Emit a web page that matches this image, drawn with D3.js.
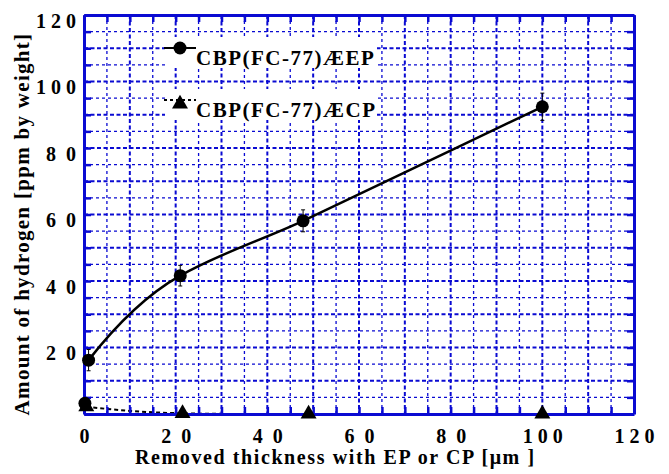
<!DOCTYPE html>
<html lang="en">
<head>
<meta charset="utf-8">
<title>Hydrogen vs removed thickness</title>
<script src="https://cdn.jsdelivr.net/npm/d3@7"></script>
<style>
  body { margin: 0; background: #fff; }
  svg text { font-family: "Liberation Serif", "Times New Roman", serif; font-weight: bold; fill: #000; }
</style>
</head>
<body>
<div id="chart"></div>
<script>

// EP series: removed thickness [um], hydrogen [ppm by weight], error
var epThickness = [1, 21, 47.8, 100];
var epHydrogen  = [16.2, 41.6, 58.1, 92.4];
var epError     = [3.2, 3.1, 3.3, 4.1];

// CP series
var cpThickness = [0.5, 21.5, 49, 100];
var cpHydrogen  = [2.2, 0.2, 0, 0];

// as-received sample
var refThickness = [0.2];
var refHydrogen  = [3.2];

var xTicks = [0, 20, 40, 60, 80, 100, 120];
var yTicks = [20, 40, 60, 80, 100, 120];
var legendLabels = ["CBP(FC-77)\u00c6EP", "CBP(FC-77)\u00c6CP"];
var xTitle = "Removed thickness with EP or CP [\u03bcm ]";
var yTitle = "Amount of hydrogen [ppm by weight]";

var margin = {top: 15, right: 35, bottom: 60, left: 84},
    width = 669 - margin.left - margin.right,
    height = 474 - margin.top - margin.bottom,
    blue = "#0a0ad2";

var svg = d3.select("#chart").append("svg")
    .attr("width", 669)
    .attr("height", 474);

var g = svg.append("g")
    .attr("transform", "translate(" + margin.left + "," + margin.top + ")");

var x = d3.scaleLinear().domain([0, 120]).range([0, width]);
var y = d3.scaleLinear().domain([0, 120]).range([height, 0]);

var minor = d3.range(5, 120, 5);

function spaced(d) {
  var s = String(d).split("");
  return s.join(s.length < 3 ? "\u00a0\u00a0" : "\u00a0");
}

// smooth line through the points: slopes lean on the segment that
// leaves each point, the first one is bent to match
function smoothPath(data) {
  var pts = data.map(function(d) { return [x(d[0]), y(d[1])]; }),
      n = pts.length, s = [], m = [], p = d3.path(), i;
  for (i = 0; i < n - 1; i++) {
    s[i] = (pts[i + 1][1] - pts[i][1]) / (pts[i + 1][0] - pts[i][0]);
  }
  for (i = 1; i < n - 1; i++) m[i] = (s[i - 1] + 3 * s[i]) / 4;
  m[n - 1] = s[n - 2];
  m[0] = 2 * s[0] - m[1];
  p.moveTo(pts[0][0], pts[0][1]);
  for (i = 0; i < n - 1; i++) {
    var h = (pts[i + 1][0] - pts[i][0]) / 3;
    p.bezierCurveTo(pts[i][0] + h, pts[i][1] + m[i] * h,
                    pts[i + 1][0] - h, pts[i + 1][1] - m[i + 1] * h,
                    pts[i + 1][0], pts[i + 1][1]);
  }
  return p.toString();
}

// grid
g.selectAll(".hgrid").data(minor).enter().append("line")
    .attr("x1", 0).attr("x2", width)
    .attr("y1", function(d) { return y(d); })
    .attr("y2", function(d) { return y(d); })
    .style("stroke", blue)
    .style("stroke-width", function(d) { return d % 10 ? 1.3 : 2; })
    .style("stroke-dasharray", function(d) { return d % 10 ? "3,3" : "4,2.5"; });

g.selectAll(".vgrid").data(minor).enter().append("line")
    .attr("y1", 0).attr("y2", height)
    .attr("x1", function(d) { return x(d); })
    .attr("x2", function(d) { return x(d); })
    .style("stroke", blue)
    .style("stroke-width", function(d) { return d % 10 ? 1.3 : 2; })
    .style("stroke-dasharray", function(d) { return d % 10 ? "3,3" : "4,2.5"; });

// legend boxes hide the grid behind them
g.selectAll(".lbox").data(legendLabels).enter().append("rect")
    .attr("x", 81)
    .attr("y", function(d, i) { return 22 + i * 52; })
    .attr("width", 212)
    .attr("height", 31)
    .style("fill", "#fff");

// curves
var epData = d3.zip(epThickness, epHydrogen, epError);
var cpData = d3.zip(cpThickness, cpHydrogen);

g.append("path")
    .attr("d", smoothPath(epData))
    .style("fill", "none")
    .style("stroke", "#000")
    .style("stroke-width", 2.5);

g.append("path")
    .attr("d", smoothPath(cpData))
    .style("fill", "none")
    .style("stroke", "#000")
    .style("stroke-width", 2)
    .style("stroke-dasharray", "4,3");

// axes on all four sides, ticks inward
function styleAxis(sel) {
  sel.select(".domain").style("stroke", blue).style("stroke-width", 3);
  sel.selectAll(".tick line").style("stroke", blue).style("stroke-width", 2.5);
  sel.selectAll(".tick text").style("font-size", "20px")
      .style("font-family", "'Liberation Serif', 'Times New Roman', serif")
      .style("font-weight", "bold").style("fill", "#000");
}

var xAxis = g.append("g")
    .attr("transform", "translate(0," + height + ")")
    .call(d3.axisBottom(x).tickValues(d3.range(0, 121, 5)).tickSize(-7).tickSizeOuter(0)
      .tickFormat(function(d) { return xTicks.indexOf(d) >= 0 ? spaced(d) : ""; }))
    .call(styleAxis);
xAxis.selectAll(".tick text").attr("y", 29).attr("dy", 0);

var yAxis = g.append("g")
    .call(d3.axisLeft(y).tickValues(d3.range(0, 121, 5)).tickSize(-7).tickSizeOuter(0).tickPadding(8)
      .tickFormat(function(d) { return yTicks.indexOf(d) >= 0 ? spaced(d) : ""; }))
    .call(styleAxis);
yAxis.selectAll(".tick text").attr("dy", "12px");

g.append("g")
    .attr("transform", "translate(" + width + ",0)")
    .call(d3.axisRight(y).tickValues(d3.range(0, 121, 5)).tickSize(-7).tickSizeOuter(0).tickFormat(""))
    .call(styleAxis);

g.append("g")
    .call(d3.axisTop(x).tickValues(d3.range(0, 121, 5)).tickSize(-7).tickSizeOuter(0).tickFormat(""))
    .call(styleAxis);

// error bars
var bars = g.selectAll(".err").data(epData).enter().append("g")
    .style("stroke", "#000")
    .style("stroke-width", 1);
bars.append("line")
    .attr("x1", function(d) { return x(d[0]); })
    .attr("x2", function(d) { return x(d[0]); })
    .attr("y1", function(d) { return y(d[1] + d[2]); })
    .attr("y2", function(d) { return y(d[1] - d[2]); });
bars.selectAll(".cap").data(function(d) { return [[d[0], d[1] + d[2]], [d[0], d[1] - d[2]]]; })
  .enter().append("line")
    .attr("x1", function(d) { return x(d[0]) - 2; })
    .attr("x2", function(d) { return x(d[0]) + 2; })
    .attr("y1", function(d) { return y(d[1]); })
    .attr("y2", function(d) { return y(d[1]); });

// markers
var triangle = d3.symbol().type(d3.symbolTriangle).size(110);

g.selectAll(".ref").data(d3.zip(refThickness, refHydrogen)).enter().append("circle")
    .attr("cx", function(d) { return x(d[0]); })
    .attr("cy", function(d) { return y(d[1]); })
    .attr("r", 6.5)
    .style("fill", "#000");

g.selectAll(".cp").data(cpData).enter().append("path")
    .attr("d", triangle)
    .attr("transform", function(d) { return "translate(" + x(d[0]) + "," + y(d[1]) + ")"; })
    .style("fill", "#000");

g.selectAll(".ep").data(epData).enter().append("circle")
    .attr("cx", function(d) { return x(d[0]); })
    .attr("cy", function(d) { return y(d[1]); })
    .attr("r", 6.5)
    .style("fill", "#000");

// legend
var legend = g.selectAll(".legend").data(legendLabels).enter().append("g")
    .attr("transform", function(d, i) { return "translate(80," + (33 + i * 52) + ")"; });

legend.append("line")
    .attr("x1", 0).attr("x2", 32)
    .attr("y1", 0).attr("y2", 0)
    .style("stroke", "#000")
    .style("stroke-width", 2)
    .style("stroke-dasharray", function(d, i) { return i ? "3,3" : null; });

legend.filter(function(d, i) { return i === 0; }).append("circle")
    .attr("cx", 16).attr("cy", 0).attr("r", 6.5)
    .style("fill", "#000");

legend.filter(function(d, i) { return i === 1; }).append("path")
    .attr("d", triangle)
    .attr("transform", "translate(16,4)")
    .style("fill", "#000");

legend.append("text")
    .attr("x", 32)
    .attr("y", 16.5)
    .style("font-size", "21px")
    .style("letter-spacing", "1.5px")
    .text(function(d) { return d; });

// axis titles
svg.append("text")
    .attr("x", 135)
    .attr("y", 464)
    .style("font-size", "20px")
    .style("letter-spacing", "1.6px")
    .text(xTitle);

svg.append("text")
    .attr("transform", "translate(29,224) rotate(-90)")
    .attr("text-anchor", "middle")
    .style("font-size", "21px")
    .style("letter-spacing", "1.3px")
    .text(yTitle);

</script>
</body>
</html>
